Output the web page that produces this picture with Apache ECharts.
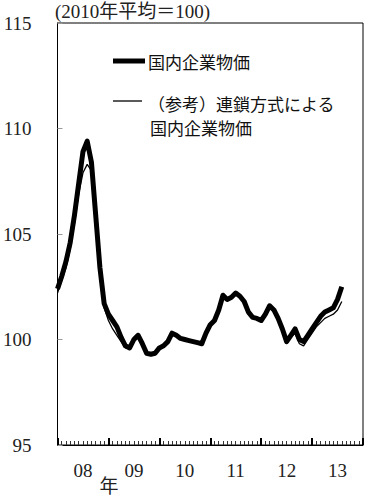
<!DOCTYPE html>
<html><head><meta charset="utf-8">
<script src="https://cdn.jsdelivr.net/npm/echarts@6/dist/echarts.min.js"></script>
<style>html,body{margin:0;padding:0;background:#fff}#c{width:383px;height:500px}</style>
</head><body><div id="c"></div>
<script>
const years = ['08','09','10','11','12','13'];
const yMin = 95, yMax = 115, yStep = 5;
// monthly values from Jan 2008 to Aug 2013
const cgpi = [102.4,103.0,103.7,104.6,105.9,107.4,108.9,109.4,108.4,105.9,103.4,101.7,
  101.2,100.9,100.6,100.1,99.7,99.6,100.0,100.2,99.8,99.35,99.3,99.35,
  99.6,99.7,99.9,100.3,100.2,100.05,100.0,99.95,99.9,99.85,99.8,100.3,
  100.7,100.9,101.4,102.1,101.9,102.0,102.2,102.05,101.8,101.3,101.05,101.0,
  100.9,101.2,101.6,101.4,101.0,100.5,99.9,100.2,100.5,100.0,99.9,100.2,
  100.5,100.8,101.1,101.3,101.4,101.5,101.9,102.5];
const chain = [102.2,102.8,103.4,104.3,105.5,106.9,107.9,108.3,108.0,105.6,103.3,101.5,
  100.9,100.5,100.2,99.9,99.6,99.6,100.1,100.3,99.8,99.4,99.3,99.4,
  99.6,99.7,99.9,100.3,100.2,100.05,100.0,99.95,99.9,99.85,99.8,100.2,
  100.6,100.9,101.4,102.1,101.9,102.0,102.2,102.05,101.8,101.3,101.05,101.0,
  100.9,101.2,101.6,101.4,101.0,100.5,99.8,100.1,100.3,99.8,99.7,100.0,
  100.3,100.6,100.8,101.0,101.1,101.2,101.4,101.8];
const seriesNames = ['国内企業物価','（参考）連鎖方式による\n国内企業物価'];

const serif = '"Liberation Serif","DejaVu Serif","Noto Sans CJK JP"';
const cjk = '"Noto Sans CJK JP","Noto Sans"';
const chart = echarts.init(document.getElementById('c'), null, {renderer:'svg'});
chart.setOption({
  animation:false,
  grid:{left:57,right:20,top:23,bottom:55,show:true,borderColor:'#000',borderWidth:1},
  xAxis:[{
    type:'value',min:0,max:years.length*12,interval:12,
    axisLine:{show:true,lineStyle:{color:'#000',width:1}},
    axisTick:{show:true,inside:true,length:7,lineStyle:{color:'#000',width:2}},
    minorTick:{show:true,splitNumber:12,length:4,lineStyle:{color:'#333',width:1}},
    axisLabel:{show:false},splitLine:{show:false},minorSplitLine:{show:false}
  },{
    type:'category',data:years,position:'bottom',boundaryGap:true,
    axisLine:{show:false},axisTick:{show:false},splitLine:{show:false},
    axisLabel:{margin:16,fontFamily:serif,fontSize:19,color:'#222'}
  }],
  yAxis:{
    type:'value',min:yMin,max:yMax,interval:yStep,
    axisLine:{show:true,lineStyle:{color:'#000',width:1}},
    axisTick:{show:true,inside:true,length:5,lineStyle:{color:'#999'}},
    splitLine:{show:false},
    axisLabel:{margin:26,fontFamily:serif,fontSize:19,color:'#222'}
  },
  series:[
    {name:seriesNames[0],type:'line',xAxisIndex:0,symbol:'none',z:2,
     data:cgpi.map((v,i)=>[i,v]),lineStyle:{color:'#000',width:5,join:'round'}},
    {name:seriesNames[1],type:'line',xAxisIndex:0,symbol:'none',z:3,
     data:chain.map((v,i)=>[i,v]),lineStyle:{color:'#000',width:1.3}}
  ],
  graphic:[
    {type:'text',left:55,top:2,style:{text:'(2010年平均＝100)',font:'19px '+serif,fill:'#222'}},
    {type:'line',shape:{x1:113,y1:61,x2:145,y2:61},style:{stroke:'#000',lineWidth:5}},
    {type:'text',x:148,y:61,style:{text:'国内企業物価',font:'17px '+cjk,fill:'#111',verticalAlign:'middle'}},
    {type:'line',shape:{x1:113,y1:101,x2:142,y2:101},style:{stroke:'#000',lineWidth:1.3}},
    {type:'text',x:148,y:103,style:{text:'（参考）連鎖方式による',font:'17px '+cjk,fill:'#111',verticalAlign:'middle'}},
    {type:'text',x:150,y:127,style:{text:'国内企業物価',font:'17px '+cjk,fill:'#111',verticalAlign:'middle'}},
    {type:'text',x:109,y:486,style:{text:'年',font:'19px '+serif,fill:'#222',align:'center',verticalAlign:'middle'}}
  ]
});
</script></body></html>
